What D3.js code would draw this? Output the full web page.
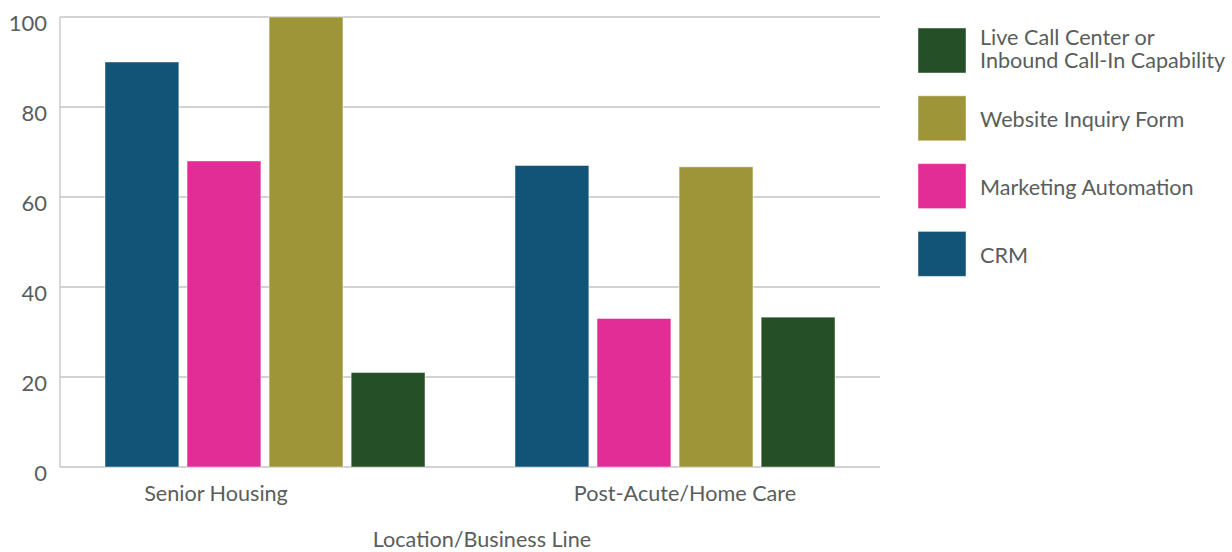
<!DOCTYPE html>
<html>
<head>
<meta charset="utf-8">
<script src="https://cdn.jsdelivr.net/npm/d3@7"></script>
<style>
  html, body { margin: 0; padding: 0; background: #ffffff; }
  svg { display: block; font-family: Lato, "Open Sans", sans-serif; }
</style>
</head>
<body>
<svg id="chart" width="1232" height="552"></svg>
<script>
const categories = ["Senior Housing", "Post-Acute/Home Care"];
const seriesNames = ["CRM", "Marketing Automation", "Website Inquiry Form", "Live Call Center or Inbound Call-In Capability"];
const crmValues = [90, 67];
const marketingValues = [68, 33];
const websiteValues = [100, 66.7];
const liveCallValues = [21, 33.3];
const yTicks = [0, 20, 40, 60, 80, 100];
const legendOrder = ["Live Call Center or Inbound Call-In Capability", "Website Inquiry Form", "Marketing Automation", "CRM"];
const legendLabels = [["Live Call Center or", "Inbound Call-In Capability"], ["Website Inquiry Form"], ["Marketing Automation"], ["CRM"]];
const xTitle = "Location/Business Line";

const seriesValues = [crmValues, marketingValues, websiteValues, liveCallValues];
const colors = ["#125477", "#e12d95", "#9d9538", "#255027"];
const textColor = "#595e5d";
const fs = 21.6;

const svg = d3.select("#chart");
const margin = { left: 60, right: 352, top: 17, bottom: 85 };
const W = 1232, H = 552;

const x0 = d3.scaleBand().domain(categories).range([margin.left, W - margin.right]).padding(0);
const x1 = d3.scaleBand().domain(seriesNames).range([45, x0.bandwidth() - 45]).paddingInner(0.1).paddingOuter(0);
const y = d3.scaleLinear().domain([0, 100]).range([H - margin.bottom, margin.top]);
const color = d3.scaleOrdinal().domain(seriesNames).range(colors);

// gridlines
svg.append("g")
  .selectAll("line")
  .data(yTicks)
  .join("line")
  .attr("x1", margin.left).attr("x2", W - margin.right)
  .attr("y1", d => y(d)).attr("y2", d => y(d))
  .attr("stroke", "#c4c4c4").attr("stroke-width", 1.3);

// left axis line
svg.append("line")
  .attr("x1", margin.left).attr("x2", margin.left)
  .attr("y1", y(100)).attr("y2", y(0))
  .attr("stroke", "#c4c4c4").attr("stroke-width", 1.3);

// y tick labels
const yAxis = d3.axisLeft(y).tickValues(yTicks).tickSize(0).tickPadding(13);
const yg = svg.append("g").attr("transform", `translate(${margin.left},0)`).call(yAxis);
yg.select(".domain").remove();
yg.selectAll("text")
  .attr("fill", textColor)
  .attr("font-size", 22)
  .attr("font-family", "Lato, sans-serif")
  .attr("dy", "0.62em");

// bars
const rows = categories.map((c, i) => ({ cat: c, vals: seriesNames.map((s, j) => ({ s, v: seriesValues[j][i] })) }));
svg.append("g")
  .selectAll("g")
  .data(rows)
  .join("g")
  .attr("transform", d => `translate(${x0(d.cat)},0)`)
  .selectAll("rect")
  .data(d => d.vals)
  .join("rect")
  .attr("x", d => x1(d.s))
  .attr("width", x1.bandwidth())
  .attr("y", d => y(d.v))
  .attr("height", d => y(0) - y(d.v))
  .attr("fill", d => color(d.s))
  .attr("stroke", "rgba(255,255,255,0.45)")
  .attr("stroke-width", 1);

// category labels
const catOffsets = [-49, 10];
svg.append("g")
  .selectAll("text")
  .data(categories)
  .join("text")
  .attr("x", (d, i) => x0(d) + x0.bandwidth() / 2 + catOffsets[i])
  .attr("y", 501)
  .attr("text-anchor", "middle")
  .attr("fill", textColor)
  .attr("font-size", fs)
  .text(d => d);

// x axis title
svg.append("text")
  .attr("x", 482)
  .attr("y", 547)
  .attr("text-anchor", "middle")
  .attr("fill", textColor)
  .attr("font-size", fs)
  .text(xTitle);

// legend
const lg = svg.append("g").attr("transform", "translate(918,28)");
const item = lg.selectAll("g")
  .data(legendOrder)
  .join("g")
  .attr("transform", (d, i) => `translate(0,${i * 67.8})`);
item.append("rect")
  .attr("width", 48).attr("height", 45)
  .attr("fill", d => color(d))
  .attr("stroke", "rgba(255,255,255,0.45)");
item.each(function(d, i) {
  const lines = legendLabels[i];
  const t = d3.select(this).append("text")
    .attr("fill", textColor)
    .attr("font-size", fs);
  lines.forEach((ln, k) => {
    t.append("tspan")
      .attr("x", 62)
      .attr("y", lines.length === 1 ? 31.5 : 17 + k * 23.3)
      .text(ln);
  });
});
</script>
</body>
</html>
